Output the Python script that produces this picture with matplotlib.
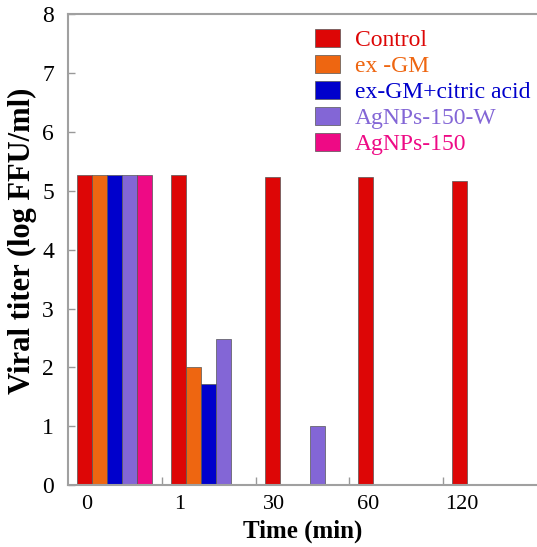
import numpy as np
import matplotlib
matplotlib.use('Agg')
import matplotlib.pyplot as plt
from matplotlib.patches import Patch

# Data
times = ['0', '1', '30', '60', '120']
series = ['Control', 'ex -GM', 'ex-GM+citric acid', 'AgNPs-150-W', 'AgNPs-150']
control = [5.27, 5.27, 5.24, 5.23, 5.17]
ex_gm = [5.27, 2.0, 0, 0, 0]
ex_gm_citric = [5.27, 1.71, 0, 0, 0]
agnps_w = [5.27, 2.48, 1.01, 0, 0]
agnps = [5.27, 0, 0, 0, 0]
colors = ['#DD0606', '#EE6611', '#0000CC', '#8366D6', '#EE0A85']

plt.rcParams['font.family'] = ['Liberation Serif', 'DejaVu Serif']

fig = plt.figure(figsize=(5.37, 5.47), dpi=100)
ax = fig.add_axes([0.1266, 0.1133, 0.8734, 0.8602])

x = np.arange(len(times))
width = 0.161
start = 0.095
all_vals = [control, ex_gm, ex_gm_citric, agnps_w, agnps]
for k, vals in enumerate(all_vals):
    ax.bar(x + start + k * width, vals, width=width, align='edge',
           color=colors[k], edgecolor='#555555', linewidth=0.5)

ax.set_xlim(0, 5)
ax.set_ylim(0, 8)
ax.set_xticks(x + start + width / 2 + 0.02)
ax.set_xticklabels(times, fontsize=16)
ax.set_xticks(np.arange(1, 5), minor=True)
ax.tick_params(axis='x', which='major', length=0, pad=7)
ax.tick_params(axis='x', which='minor', direction='in', length=6, color='#999999', width=1)
ax.set_yticks(range(0, 9))
ax.tick_params(axis='y', direction='in', length=5, color='#999999', width=1,
               labelsize=17, pad=10)

for side in ['top', 'left', 'bottom']:
    ax.spines[side].set_color('#a0a0a0')
    ax.spines[side].set_linewidth(1.5)
ax.spines['right'].set_visible(False)

ax.set_xlabel('Time (min)', fontsize=18, fontweight='bold', labelpad=4)
ax.set_ylabel('Viral titer (log FFU/ml)', fontsize=22, fontweight='bold')
ax.yaxis.set_label_coords(-0.066, 0.52)

handles = [Patch(facecolor=c, edgecolor='#555555', linewidth=0.5) for c in colors]
leg = ax.legend(handles, series, loc='upper left', bbox_to_anchor=(0.507, 0.99),
                frameon=False, fontsize=17, handlelength=1.06, handleheight=0.8,
                handletextpad=0.62, labelspacing=0.16, borderaxespad=0)
for t, c in zip(leg.get_texts(), colors):
    t.set_color(c)

fig.savefig('out.png', dpi=100)
